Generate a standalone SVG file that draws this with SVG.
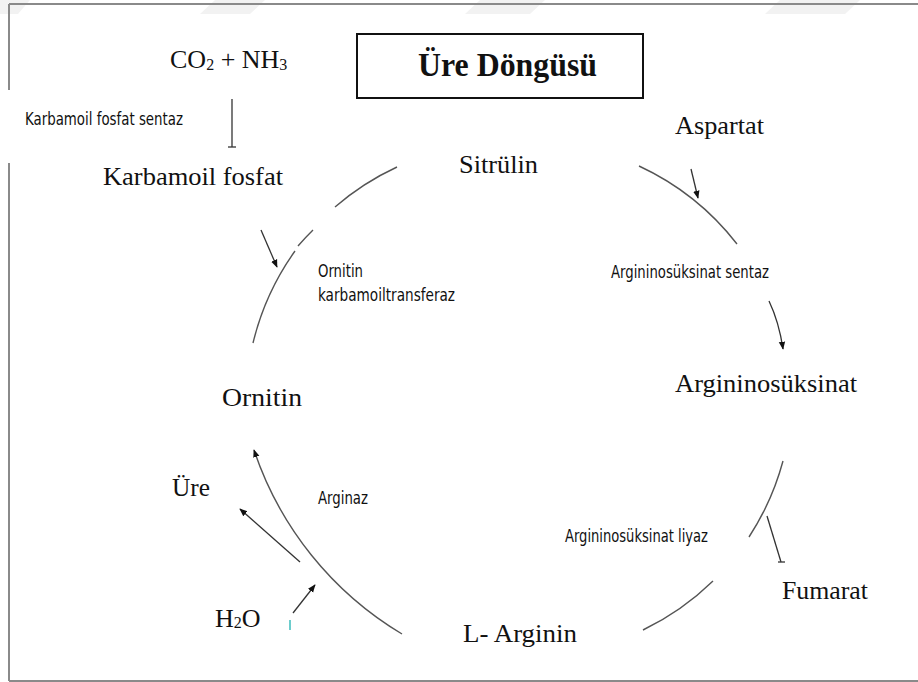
<svg xmlns="http://www.w3.org/2000/svg" width="918" height="682" viewBox="0 0 918 682">
<defs>
<style>
.frame{stroke:#8a8a8a;stroke-width:2;fill:none}
.node{font-family:"Liberation Serif","Times New Roman",serif;font-size:26px;fill:#111}
.enz{font-family:"Liberation Sans Narrow","DejaVu Sans Condensed","Liberation Sans",sans-serif;font-size:17.5px;fill:#111}
.arc{stroke:#555;stroke-width:1.4;fill:none}
.arr{stroke:#333;stroke-width:1.3;fill:none}
.wm{fill:#f2f2f2}
</style>
<marker id="ah" viewBox="0 0 10 10" refX="9" refY="5" markerWidth="8" markerHeight="8" markerUnits="userSpaceOnUse" orient="auto">
<path d="M0,1 L10,5 L0,9 z" fill="#111"/>
</marker>
</defs>
<rect width="918" height="682" fill="#fff"/>
<g id="watermark">
<polygon class="wm" points="0,0 30,0 18,14 0,14"/>
<polygon class="wm" points="215,0 265,0 250,14 200,14"/>
<polygon class="wm" points="480,0 545,0 530,14 465,14"/>
<polygon class="wm" points="780,0 860,0 845,14 765,14"/>
</g>
<g id="frame">
<line class="frame" x1="9" y1="4" x2="918" y2="4"/>
<line class="frame" x1="9" y1="4" x2="9" y2="90"/>
<line class="frame" x1="9" y1="163" x2="9" y2="681"/>
<line class="frame" x1="9" y1="681" x2="918" y2="681"/>
</g>
<g id="title">
<rect x="357" y="34" width="286" height="64" fill="#fff" stroke="#111" stroke-width="2"/>
<text x="418" y="76" font-family="Liberation Serif,'Times New Roman',serif" font-size="34" font-weight="bold" fill="#111" textLength="179" lengthAdjust="spacingAndGlyphs">Üre Döngüsü</text>
</g>
<g id="connectors">
<path class="arc" d="M253,343 A265,265 0 0 1 295,251"/>
<path class="arc" d="M298,246 A265,265 0 0 1 313,230"/>
<path class="arc" d="M335,207 A265,265 0 0 1 397,167"/>
<path class="arc" d="M639,166 A265,265 0 0 1 737,244"/>
<path class="arc" d="M783,461 A265,265 0 0 1 749,537"/>
<path class="arc" d="M713,581 A265,265 0 0 1 643,630"/>
<path class="arc" d="M402,634 A340,340 0 0 1 254,450" marker-end="url(#ah)"/>
<line class="arr" x1="232" y1="99" x2="232" y2="147"/>
<line class="arr" x1="228" y1="147" x2="236" y2="147"/>
<line class="arr" x1="261" y1="230" x2="277" y2="267" marker-end="url(#ah)"/>
<line class="arr" x1="691" y1="169" x2="698" y2="198" marker-end="url(#ah)"/>
<path class="arr" d="M769,301 Q779,322 783,349" marker-end="url(#ah)"/>
<line class="arr" x1="767" y1="516" x2="781" y2="562"/>
<line class="arr" x1="778" y1="562" x2="785" y2="562"/>
<line class="arr" x1="300" y1="562" x2="240" y2="509" marker-end="url(#ah)"/>
<line class="arr" x1="293" y1="613" x2="315" y2="585" marker-end="url(#ah)"/>
<line x1="290" y1="620" x2="290" y2="630" stroke="#3cbcbc" stroke-width="1.5"/>
</g>
<g id="n-co2"><text class="node" x="170" y="68" font-size="24">CO<tspan font-size="16" dy="2">2</tspan><tspan dy="-2"> + NH</tspan><tspan font-size="16" dy="2">3</tspan></text></g>
<g id="e-kfs"><text class="enz" x="25" y="125" textLength="158" lengthAdjust="spacingAndGlyphs">Karbamoil fosfat sentaz</text></g>
<g id="n-kf"><text class="node" x="103" y="185" font-size="27" textLength="180" lengthAdjust="spacingAndGlyphs">Karbamoil fosfat</text></g>
<g id="n-sitrulin"><text class="node" x="459" y="173" textLength="79" lengthAdjust="spacingAndGlyphs">Sitrülin</text></g>
<g id="n-aspartat"><text class="node" x="675" y="134" textLength="89" lengthAdjust="spacingAndGlyphs">Aspartat</text></g>
<g id="e-otc"><text class="enz" x="318" y="277" textLength="45" lengthAdjust="spacingAndGlyphs">Ornitin</text><text class="enz" x="318" y="301" textLength="137" lengthAdjust="spacingAndGlyphs">karbamoiltransferaz</text></g>
<g id="e-ass"><text class="enz" x="611" y="278" textLength="158" lengthAdjust="spacingAndGlyphs">Argininosüksinat sentaz</text></g>
<g id="n-as"><text class="node" x="675" y="392" textLength="182" lengthAdjust="spacingAndGlyphs">Argininosüksinat</text></g>
<g id="n-ornitin"><text class="node" x="222" y="406" textLength="80" lengthAdjust="spacingAndGlyphs">Ornitin</text></g>
<g id="n-ure"><text class="node" x="172" y="496" textLength="38" lengthAdjust="spacingAndGlyphs">Üre</text></g>
<g id="e-arginaz"><text class="enz" x="318" y="504" textLength="50" lengthAdjust="spacingAndGlyphs">Arginaz</text></g>
<g id="e-asl"><text class="enz" x="565" y="542" textLength="143" lengthAdjust="spacingAndGlyphs">Argininosüksinat liyaz</text></g>
<g id="n-fumarat"><text class="node" x="782" y="599" textLength="86" lengthAdjust="spacingAndGlyphs">Fumarat</text></g>
<g id="n-h2o"><text class="node" x="215" y="627" font-size="24">H<tspan font-size="16" dy="1">2</tspan><tspan dy="-1">O</tspan></text></g>
<g id="n-larginin"><text class="node" x="463" y="642" textLength="114" lengthAdjust="spacingAndGlyphs">L- Arginin</text></g>
</svg>
